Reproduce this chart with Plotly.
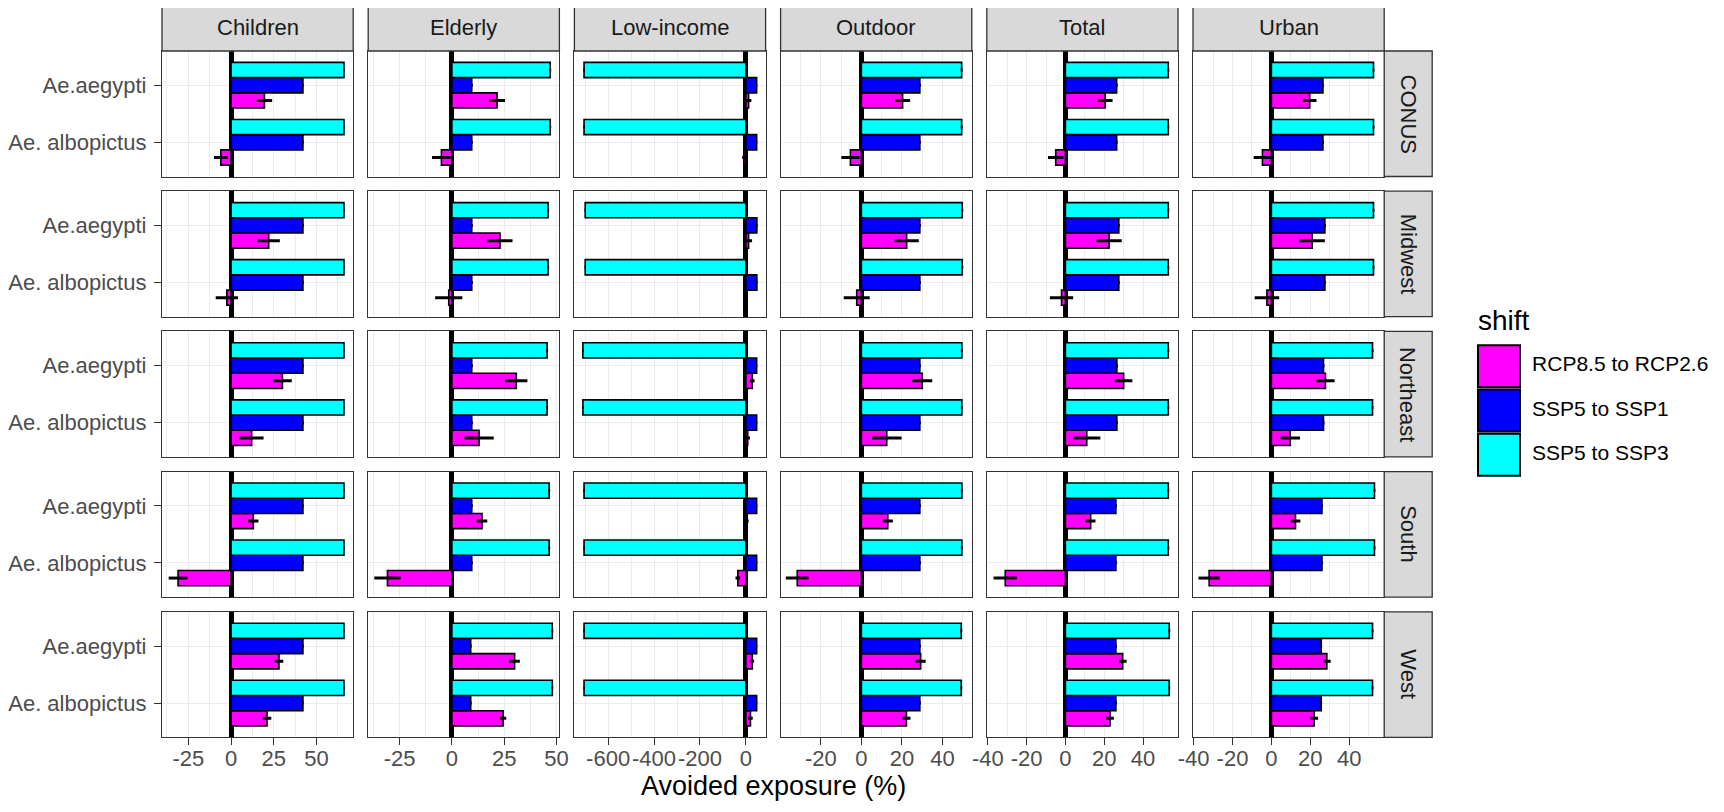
import plotly.graph_objects as go

# facets
groups = ["Children", "Elderly", "Low-income", "Outdoor", "Total", "Urban"]
regions = ["CONUS", "Midwest", "Northeast", "South", "West"]
species = ["Ae.aegypti", "Ae. albopictus"]
shifts = ["RCP8.5 to RCP2.6", "SSP5 to SSP1", "SSP5 to SSP3"]
colors = ["#FF00FF", "#0000FF", "#00FFFF"]

# avoided exposure (%), rows = regions, cols = groups
ssp3 = [
    [66, 47, -705, 49.4, 53, 52.5],
    [66, 46, -700, 49.7, 53, 52.5],
    [66, 45.5, -710, 49.5, 53, 52],
    [66, 46.5, -705, 49.5, 53, 53],
    [66, 48, -705, 49.2, 53.5, 52],
]
ssp1 = [
    [42, 9.5, 47, 28.8, 26.4, 26.5],
    [42, 9.5, 48, 28.8, 27.5, 27.5],
    [42, 9.5, 47, 28.8, 26.5, 26.8],
    [42, 9.5, 47, 28.8, 26, 26],
    [42, 9, 47, 28.8, 26, 25.6],
]
rcp_aegypti = [
    [19.5, 21.6, 12, 20.3, 20.5, 19.7],
    [22, 23, 12, 22.3, 22.5, 21],
    [30, 30.8, 28, 30, 30, 27.8],
    [13, 14.4, 6, 13, 13, 12.4],
    [28, 30, 28, 29.2, 29.5, 28.5],
]
rcp_aegypti_err = [
    [4.5, 3.8, 12, 3.7, 3.8, 3.5],
    [6.5, 6, 15, 6, 6.5, 6.5],
    [5.5, 5.3, 10, 4.9, 4.5, 4.7],
    [3, 2.5, 6, 2.5, 2.5, 2.5],
    [2.5, 2.5, 8, 2.5, 2, 2],
]
rcp_albopictus = [
    [-6, -5, -8, -5.4, -5, -4.6],
    [-2.5, -1.5, -3, -2.3, -2, -2.3],
    [12, 13, 8, 12.5, 11, 9.7],
    [-31, -30.8, -35, -31.6, -31, -32],
    [21, 24.5, 20, 22.2, 23, 22],
]
rcp_albopictus_err = [
    [4, 4.5, 8, 4.5, 4, 4.5],
    [6.5, 6.5, 8, 6.4, 6, 6.3],
    [7, 7, 10, 7.3, 7, 5],
    [5.5, 6.3, 10, 5.6, 6, 5.5],
    [2.5, 1.5, 10, 2, 2, 2],
]
ssp_err = [0.5, 0.5, 3, 0.5, 0.5, 0.5]

# per-column x scales (free_x) and tick labels
x_ranges = [[-40.4, 71.4], [-40, 51.4], [-747, 86], [-39.8, 54.4], [-40.5, 58], [-40.3, 58]]
x_tickvals = [
    [-25, 0, 25, 50],
    [-25, 0, 25, 50],
    [-600, -400, -200, 0],
    [-20, 0, 20, 40],
    [-40, -20, 0, 20, 40],
    [-40, -20, 0, 20, 40],
]
x_ticktext = [[str(v) for v in vals] for vals in x_tickvals]
x_minor = [12.5, 12.5, 100, 10, 10, 10]

# page body has an 8px margin, so the figure is a bit smaller than the window
OFF = 8
W, H = 1706, 794
FONT = "Liberation Sans, Arial, sans-serif"


def px(x):
    return (x - OFF) / W


def py(y):
    return 1 - (y - OFF) / H


col_left = [162 + c * 206.2 for c in range(6)]
col_w = 191.2
row_top = [51 + r * 140.2 for r in range(5)]
row_h = 125.5

fig = go.Figure()
layout = {}
shapes = []
annotations = []

for r, region in enumerate(regions):
    for c, group in enumerate(groups):
        k = r * 6 + c + 1
        xa = "x" if k == 1 else "x%d" % k
        ya = "y" if k == 1 else "y%d" % k
        series = [
            ([rcp_aegypti[r][c], rcp_albopictus[r][c]], [rcp_aegypti_err[r][c], rcp_albopictus_err[r][c]]),
            ([ssp1[r][c], ssp1[r][c]], [ssp_err[c], ssp_err[c]]),
            ([ssp3[r][c], ssp3[r][c]], [ssp_err[c], ssp_err[c]]),
        ]
        for (vals, errs), name, col in zip(series, shifts, colors):
            fig.add_trace(go.Bar(
                x=vals, y=species, orientation="h", name=name,
                marker=dict(color=col, line=dict(color="black", width=1.6)),
                error_x=dict(type="data", array=errs, color="black", thickness=3, width=0),
                xaxis=xa, yaxis=ya, showlegend=False,
            ))
        x0, x1 = col_left[c], col_left[c] + col_w
        y0, y1 = row_top[r], row_top[r] + row_h
        bottom = r == len(regions) - 1
        left = c == 0
        layout["xaxis" if k == 1 else "xaxis%d" % k] = dict(
            domain=[px(x0), px(x1)], anchor=ya, range=x_ranges[c],
            tickmode="array", tickvals=x_tickvals[c], ticktext=x_ticktext[c], tickangle=0,
            showgrid=True, gridcolor="#EBEBEB", gridwidth=1.4,
            minor=dict(tickmode="linear", tick0=0, dtick=x_minor[c], showgrid=True,
                       gridcolor="#EBEBEB", gridwidth=0.7),
            zeroline=True, zerolinecolor="black", zerolinewidth=5,
            showline=True, linecolor="#333333", linewidth=1.3, mirror=True,
            ticks="outside" if bottom else "", ticklen=7, tickcolor="#333333", tickwidth=1.3,
            showticklabels=bottom, ticklabelstandoff=-6,
            tickfont=dict(size=22, color="#4D4D4D", family=FONT),
            automargin=False,
        )
        layout["yaxis" if k == 1 else "yaxis%d" % k] = dict(
            domain=[py(y1), py(y0)], anchor=xa, type="category",
            categoryorder="array", categoryarray=species[::-1], range=[-0.6, 1.6],
            showgrid=True, gridcolor="#EBEBEB", gridwidth=1.4, zeroline=False,
            showline=True, linecolor="#333333", linewidth=1.3, mirror=True,
            ticks="outside" if left else "", ticklen=7, tickcolor="#333333", tickwidth=1.3,
            showticklabels=left, ticklabelstandoff=3,
            tickfont=dict(size=22, color="#4D4D4D", family=FONT),
            automargin=False,
        )

# column strips
for c, group in enumerate(groups):
    x0, x1 = col_left[c], col_left[c] + col_w
    shapes.append(dict(type="rect", xref="paper", yref="paper", x0=px(x0), x1=px(x1),
                       y0=py(51), y1=py(4), fillcolor="#D9D9D9",
                       line=dict(color="#333333", width=1.3)))
    annotations.append(dict(text=group, xref="paper", yref="paper", x=px((x0 + x1) / 2),
                            y=py(27.5), xanchor="center", yanchor="middle", showarrow=False,
                            font=dict(size=22, color="#1A1A1A", family=FONT)))

# row strips
sx0, sx1 = col_left[5] + col_w, col_left[5] + col_w + 48
for r, region in enumerate(regions):
    y0, y1 = row_top[r], row_top[r] + row_h
    shapes.append(dict(type="rect", xref="paper", yref="paper", x0=px(sx0), x1=px(sx1),
                       y0=py(y1), y1=py(y0), fillcolor="#D9D9D9",
                       line=dict(color="#333333", width=1.3)))
    annotations.append(dict(text=region, xref="paper", yref="paper", x=px((sx0 + sx1) / 2),
                            y=py((y0 + y1) / 2), xanchor="center", yanchor="middle",
                            showarrow=False, textangle=90,
                            font=dict(size=22, color="#1A1A1A", family=FONT)))

# x title
annotations.append(dict(text="Avoided exposure (%)", xref="paper", yref="paper",
                        x=px((col_left[0] + sx0) / 2), y=py(786),
                        xanchor="center", yanchor="middle", showarrow=False,
                        font=dict(size=27, color="black", family=FONT)))

# legend drawn on its own small axes
fig.add_trace(go.Scatter(
    x=[0, 0, 0], y=shifts, mode="markers+text", text=[" " + s for s in shifts],
    textposition="middle right",
    marker=dict(symbol="square", size=42, color=colors, line=dict(color="black", width=2)),
    textfont=dict(size=21, color="black", family=FONT),
    xaxis="x31", yaxis="y31", showlegend=False, cliponaxis=False, hoverinfo="skip",
))
layout["xaxis31"] = dict(domain=[px(1477), px(1521)], anchor="y31", range=[-0.5, 0.5],
                         visible=False, fixedrange=True)
layout["yaxis31"] = dict(domain=[py(477), py(344)], anchor="x31", type="category",
                         categoryorder="array", categoryarray=shifts[::-1], range=[-0.5, 2.5],
                         visible=False, fixedrange=True)
annotations.append(dict(text="shift", xref="paper", yref="paper", x=px(1476), y=py(320),
                        xanchor="left", yanchor="middle", showarrow=False,
                        font=dict(size=28, color="black", family=FONT)))

fig.update_layout(
    width=W, height=H, margin=dict(l=0, r=0, t=0, b=0),
    paper_bgcolor="white", plot_bgcolor="white",
    barmode="group", bargap=0.2, bargroupgap=0,
    shapes=shapes, annotations=annotations,
    font=dict(family=FONT),
    **layout,
)

fig.write_html("out.html")
